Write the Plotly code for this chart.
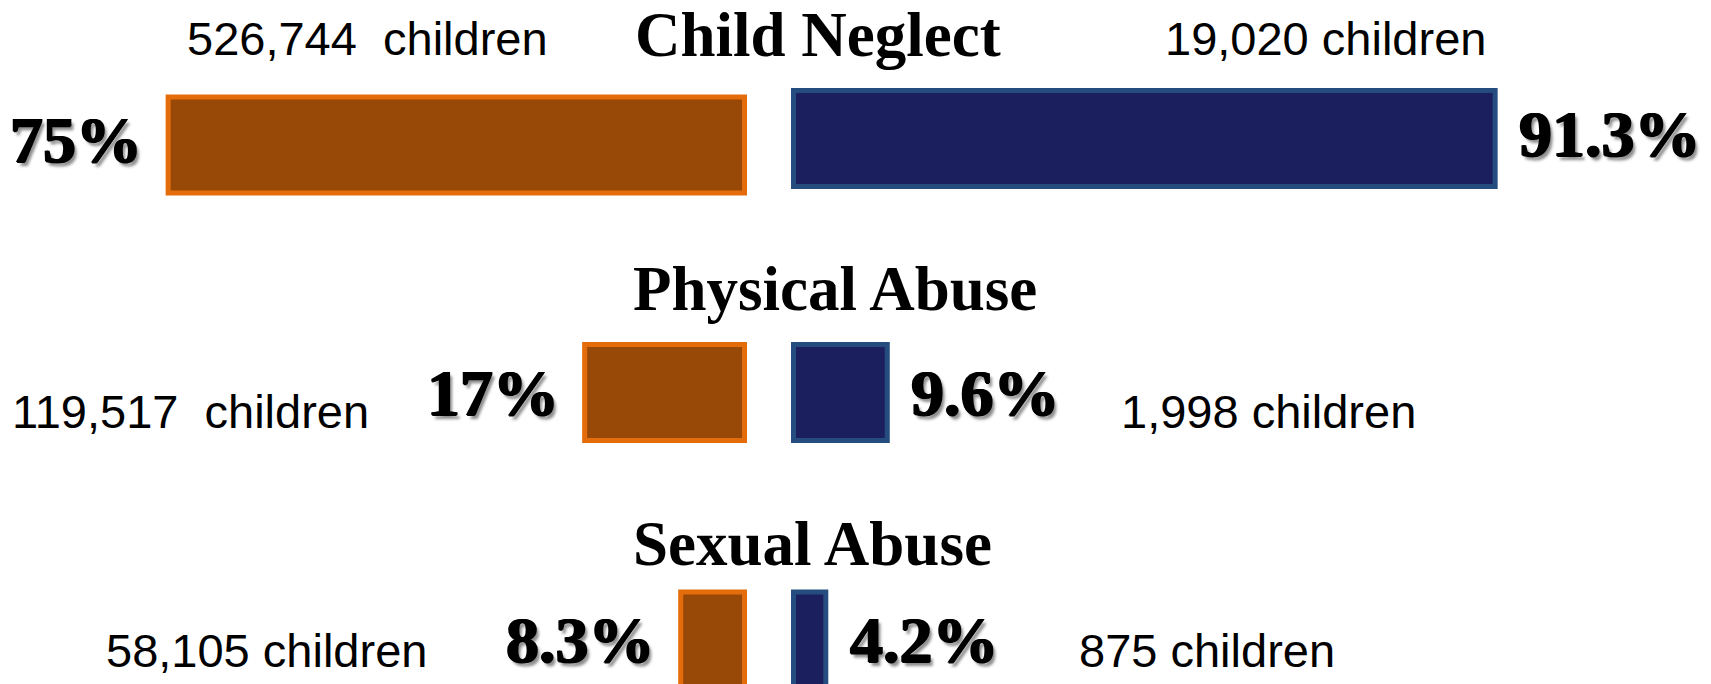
import plotly.graph_objects as go

# ---- data ----
categories = ["Child Neglect", "Physical Abuse", "Sexual Abuse"]
left_pct_labels = ["75%", "17%", "8.3%"]
right_pct_labels = ["91.3%", "9.6%", "4.2%"]
left_bar_length = [75, 20.8, 8.3]      # drawn bar lengths (percent scale)
right_bar_length = [91.3, 12.2, 4.2]
left_counts = ["526,744\u00a0 children", "119,517\u00a0 children", "58,105 children"]
right_counts = ["19,020 children", "1,998 children", "875 children"]

# ---- layout constants ----
W, H = 1711, 684
GAP = 3.19
BAR_W = 0.388
ORANGE_FILL, ORANGE_LINE = "#984807", "#E46C0A"
BLUE_FILL, BLUE_LINE = "#1B1F5E", "#254C7F"
SERIF = "Liberation Serif, Times New Roman, serif"
SANS = "Liberation Sans, Arial, sans-serif"
right_bar_offset = [-BAR_W / 2 - 0.026, -BAR_W / 2, -BAR_W / 2]
left_label_yshift = [6, 0, 0]
right_label_yshift = [12, 0, 0]

fig = go.Figure()
fig.add_trace(go.Bar(
    y=categories, x=[-v for v in left_bar_length], base=[-GAP] * len(categories),
    orientation="h", width=BAR_W,
    marker=dict(color=ORANGE_FILL, line=dict(color=ORANGE_LINE, width=5)),
    hoverinfo="skip",
))
fig.add_trace(go.Bar(
    y=categories, x=right_bar_length, base=[GAP] * len(categories),
    orientation="h", width=BAR_W, offset=right_bar_offset,
    marker=dict(color=BLUE_FILL, line=dict(color=BLUE_LINE, width=5)),
    hoverinfo="skip",
))

pct_font = dict(family=SERIF, size=66, color="black", weight="bold",
                shadow="1px 0px 0px #000, -1px 0px 0px #000, 0px 1px 0px #000, "
                       "3px 4px 3px rgba(0,0,0,0.45)")
ann = []
for cat, v, t, ys in zip(categories, left_bar_length, left_pct_labels, left_label_yshift):
    ann.append(dict(x=-(GAP + v), y=cat, xref="x", yref="y", text=t, showarrow=False,
                    xanchor="right", yanchor="middle", xshift=-24, yshift=ys, font=pct_font))
for cat, v, t, ys in zip(categories, right_bar_length, right_pct_labels, right_label_yshift):
    ann.append(dict(x=GAP + v, y=cat, xref="x", yref="y", text=t, showarrow=False,
                    xanchor="left", yanchor="middle", xshift=22, yshift=ys, font=pct_font))

# titles (pixel positions -> paper)
title_pos = [(634, 35), (632, 289), (632, 544)]
for cat, (px, py) in zip(categories, title_pos):
    ann.append(dict(x=px / W, y=1 - py / H, xref="paper", yref="paper", text=cat,
                    showarrow=False, xanchor="left", yanchor="middle", borderpad=0,
                    font=dict(family=SERIF, size=63, color="black", weight="bold")))

count_font = dict(family=SANS, size=47, color="black")
left_count_pos = [(185, 38), (10, 411), (104, 650)]
right_count_pos = [(1163, 38), (1119, 411), (1077, 650)]
for t, (px, py) in zip(left_counts, left_count_pos):
    ann.append(dict(x=px / W, y=1 - py / H, xref="paper", yref="paper", text=t,
                    showarrow=False, xanchor="left", yanchor="middle", font=count_font))
for t, (px, py) in zip(right_counts, right_count_pos):
    ann.append(dict(x=px / W, y=1 - py / H, xref="paper", yref="paper", text=t,
                    showarrow=False, xanchor="left", yanchor="middle", font=count_font))

fig.update_layout(
    width=W, height=H,
    margin=dict(l=0, r=0, t=0, b=0),
    paper_bgcolor="white", plot_bgcolor="white",
    showlegend=False, barmode="overlay",
    annotations=ann,
    xaxis=dict(range=[-100.07, 122.58], visible=False, fixedrange=True),
    yaxis=dict(type="category", categoryorder="array", categoryarray=categories,
               range=[2.178, -0.586], visible=False, fixedrange=True),
)

fig.write_html(
    "out.html",
    config={"displayModeBar": False},
    post_script="document.body.style.margin='0px';document.body.style.overflow='hidden';",
)
